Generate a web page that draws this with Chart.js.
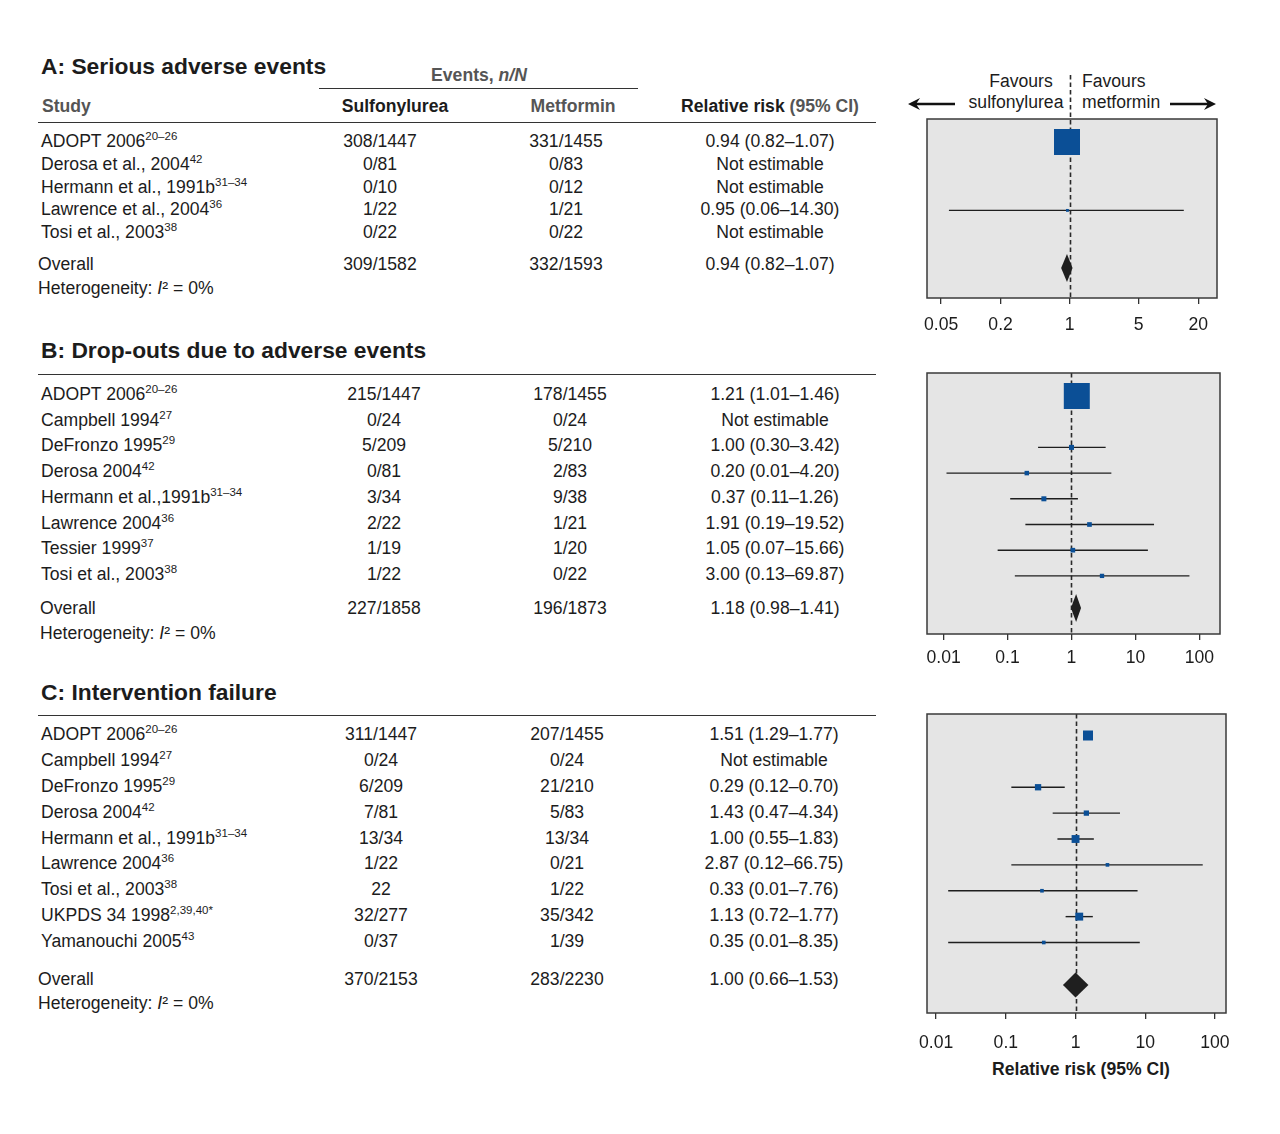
<!DOCTYPE html>
<html>
<head>
<meta charset="utf-8">
<script src="https://cdn.jsdelivr.net/npm/chart.js@4.4.1/dist/chart.umd.min.js"></script>
<style>
  body{margin:0;background:#fff;font-family:"Liberation Sans",Arial,sans-serif;color:#1c1c1c}
  #page{position:relative;width:1280px;height:1134px;overflow:hidden;background:#fff}
  .t{position:absolute;white-space:nowrap;font-size:17.6px;line-height:20px;transform:translateY(-50%)}
  .t.c{transform:translate(-50%,-50%)}
  .b{font-weight:bold}
  .g{color:#555}
  .title{font-size:22.8px;font-weight:bold}
  sup{font-size:11.5px;position:relative;top:-7px;vertical-align:baseline;line-height:0}
  .rule{position:absolute;height:0;border-top:1.5px solid #333}
  .plot{position:absolute}
  .fav{position:absolute;font-size:17.6px;line-height:21px;white-space:nowrap}
</style>
</head>
<body>
<div id="page"></div>
<script>
// ---------- data ----------
const ticksA = [0.05, 0.2, 1, 5, 20];
const ticksBC = [0.01, 0.1, 1, 10, 100];

// A: serious adverse events
const studiesA = ['ADOPT 2006', 'Derosa et al., 2004', 'Hermann et al., 1991b', 'Lawrence et al., 2004', 'Tosi et al., 2003'];
const refsA = ['20–26', '42', '31–34', '36', '38'];
const suA = ['308/1447', '0/81', '0/10', '1/22', '0/22'];
const meA = ['331/1455', '0/83', '0/12', '1/21', '0/22'];
const rrA = [0.94, null, null, 0.95, null];
const loA = [0.82, null, null, 0.06, null];
const hiA = [1.07, null, null, 14.30, null];
const wA = [98.8, null, null, 1.2, null];
const totA = ['309/1582', '332/1593'];
const overallA = [0.94, 0.82, 1.07];

// B: drop-outs due to adverse events
const studiesB = ['ADOPT 2006', 'Campbell 1994', 'DeFronzo 1995', 'Derosa 2004', 'Hermann et al.,1991b', 'Lawrence 2004', 'Tessier 1999', 'Tosi et al., 2003'];
const refsB = ['20–26', '27', '29', '42', '31–34', '36', '37', '38'];
const suB = ['215/1447', '0/24', '5/209', '0/81', '3/34', '2/22', '1/19', '1/22'];
const meB = ['178/1455', '0/24', '5/210', '2/83', '9/38', '1/21', '1/20', '0/22'];
const rrB = [1.21, null, 1.00, 0.20, 0.37, 1.91, 1.05, 3.00];
const loB = [1.01, null, 0.30, 0.0111, 0.11, 0.19, 0.07, 0.13];
const hiB = [1.46, null, 3.42, 4.20, 1.26, 19.52, 15.66, 69.87];
const wB = [83.5, null, 3.1, 2.5, 3.1, 2.7, 2.7, 2.3];
const totB = ['227/1858', '196/1873'];
const overallB = [1.18, 0.98, 1.41];

// C: intervention failure
const studiesC = ['ADOPT 2006', 'Campbell 1994', 'DeFronzo 1995', 'Derosa 2004', 'Hermann et al., 1991b', 'Lawrence 2004', 'Tosi et al., 2003', 'UKPDS 34 1998', 'Yamanouchi 2005'];
const refsC = ['20–26', '27', '29', '42', '31–34', '36', '38', '2,39,40*', '43'];
const suC = ['311/1447', '0/24', '6/209', '7/81', '13/34', '1/22', '22', '32/277', '0/37'];
const meC = ['207/1455', '0/24', '21/210', '5/83', '13/34', '0/21', '1/22', '35/342', '1/39'];
const rrC = [1.51, null, 0.29, 1.43, 1.00, 2.87, 0.33, 1.13, 0.35];
const loC = [1.29, null, 0.12, 0.47, 0.55, 0.12, 0.0149, 0.72, 0.0149];
const hiC = [1.77, null, 0.70, 4.34, 1.83, 66.75, 7.76, 1.77, 8.35];
const wC = [30.1, null, 12.0, 8.4, 18.7, 4.0, 4.0, 18.8, 4.0];
const totC = ['370/2153', '283/2230'];
const overallC = [1.00, 0.66, 1.53];

// ---------- layout ----------
const panels = [
  { title: 'A: Serious adverse events', titleY: 66, ruleY: 122, firstY: 141, step: 22.8, gap: 0.39, hetDy: 24,
    sx: 380, mx: 566, rx: 770, ox: 38, box: { l: 927, t: 119, r: 1217, b: 298 }, xmin: 0.036, xmax: 31,
    ticks: ticksA, maxSide: 26, tickPad: 11, dh: 14, plotDy: 1, diaDy: 3, header: true,
    d: { st: studiesA, ref: refsA, su: suA, me: meA, rr: rrA, lo: loA, hi: hiA, w: wA, tot: totA, ov: overallA } },
  { title: 'B: Drop-outs due to adverse events', titleY: 350, ruleY: 374, firstY: 394, step: 25.7, gap: 0.33, hetDy: 25,
    sx: 384, mx: 570, rx: 775, ox: 40, box: { l: 927, t: 373, r: 1220, b: 634 }, xmin: 0.0055, xmax: 210,
    ticks: ticksBC, maxSide: 26, tickPad: 8, dh: 14, plotDy: 2, diaDy: -2,
    d: { st: studiesB, ref: refsB, su: suB, me: meB, rr: rrB, lo: loB, hi: hiB, w: wB, tot: totB, ov: overallB } },
  { title: 'C: Intervention failure', titleY: 692, ruleY: 715, firstY: 734, step: 25.875, gap: 0.47, hetDy: 24,
    sx: 381, mx: 567, rx: 774, ox: 38, box: { l: 927, t: 714, r: 1226, b: 1013 }, xmin: 0.0074, xmax: 144,
    ticks: ticksBC, maxSide: 10, tickPad: 14, dh: 12.5, plotDy: 1.5, diaDy: 4.5,
    d: { st: studiesC, ref: refsC, su: suC, me: meC, rr: rrC, lo: loC, hi: hiC, w: wC, tot: totC, ov: overallC } }
];

const page = document.getElementById('page');
function addText(html, x, y, cls) {
  const el = document.createElement('div');
  el.className = 't ' + (cls || '');
  el.style.left = x + 'px'; el.style.top = y + 'px';
  el.innerHTML = html; page.appendChild(el); return el;
}
function addRule(x1, x2, y) {
  const el = document.createElement('div'); el.className = 'rule';
  el.style.left = x1 + 'px'; el.style.width = (x2 - x1) + 'px'; el.style.top = y + 'px';
  page.appendChild(el);
}
const fmt = v => v.toFixed(2);
const rrText = (rr, lo, hi) => rr == null ? 'Not estimable' : `${fmt(rr)} (${fmt(lo)}–${fmt(hi)})`;

// column headers (top of panel A)
addText('Events, <i>n/N</i>', 479, 75, 'c b g');
addRule(319, 638, 88);
addText('Study', 42, 106, 'b g');
addText('Sulfonylurea', 395, 106, 'c b');
addText('Metformin', 573, 106, 'c b g');
addText('Relative risk <span class="g">(95% CI)</span>', 770, 106, 'c b');

// favours labels and x-axis title
const f1 = document.createElement('div'); f1.className = 'fav';
f1.style.cssText = 'left:1016px;top:71px;transform:translateX(-50%);text-align:center';
f1.innerHTML = '<span style="position:relative;left:5px">Favours</span><br>sulfonylurea'; page.appendChild(f1);
const f2 = document.createElement('div'); f2.className = 'fav';
f2.style.cssText = 'left:1082px;top:71px;text-align:left';
f2.innerHTML = 'Favours<br>metformin'; page.appendChild(f2);
addText('Relative risk (95% CI)', 1081, 1069, 'c b');

function buildPanel(p) {
  const d = p.d;
  const n = d.st.length;
  addText(p.title, 41, p.titleY, 'title');
  addRule(38, 876, p.ruleY);
  for (let i = 0; i < n; i++) {
    const y = p.firstY + i * p.step;
    addText(`${d.st[i]}<sup>${d.ref[i]}</sup>`, 41, y);
    addText(d.su[i], p.sx, y, 'c');
    addText(d.me[i], p.mx, y, 'c');
    addText(rrText(d.rr[i], d.lo[i], d.hi[i]), p.rx, y, 'c');
  }
  const oy = p.firstY + (n + p.gap) * p.step;
  addText('Overall', p.ox, oy);
  addText(d.tot[0], p.sx, oy, 'c');
  addText(d.tot[1], p.mx, oy, 'c');
  addText(rrText(d.ov[0], d.ov[1], d.ov[2]), p.rx, oy, 'c');
  addText('Heterogeneity: <i>I</i>² = 0%', p.ox, oy + p.hetDy);

  // ---- forest plot ----
  const padL = 30, padR = 20, padT = p.header ? 60 : 4, axisH = 46;
  const wrap = document.createElement('div'); wrap.className = 'plot';
  const W = p.box.r - p.box.l + padL + padR, H = p.box.b - p.box.t + padT + axisH;
  wrap.style.left = (p.box.l - padL) + 'px'; wrap.style.top = (p.box.t - padT) + 'px';
  wrap.style.width = W + 'px'; wrap.style.height = H + 'px';
  const cv = document.createElement('canvas'); wrap.appendChild(cv); page.appendChild(wrap);

  const y0 = p.firstY + p.plotDy;
  const wMax = Math.max(...d.w.filter(v => v != null));
  const datasets = [];
  d.rr.forEach((v, i) => {
    if (v == null) return;
    datasets.push({ type: 'line', order: 1, data: [{ x: d.lo[i], y: i }, { x: d.hi[i], y: i }],
      borderColor: '#1e1e1e', borderWidth: 1.4, pointRadius: 0, fill: false });
  });
  const pts = [], rad = [];
  d.rr.forEach((v, i) => {
    if (v == null) return;
    pts.push({ x: v, y: i });
    rad.push(p.maxSide * Math.sqrt(d.w[i] / wMax) / (2 * Math.SQRT1_2));
  });
  datasets.push({ type: 'scatter', order: 0, data: pts, pointStyle: 'rect', pointRadius: rad,
    backgroundColor: '#0b4f96', borderWidth: 0 });

  const ovRow = n + p.gap;
  const forest = {
    id: 'forest',
    beforeDatasetsDraw(chart) {
      const { ctx, chartArea: a, scales: { x } } = chart;
      ctx.save();
      ctx.fillStyle = '#e5e5e5';
      ctx.fillRect(a.left, a.top, a.right - a.left, a.bottom - a.top);
      const x1 = Math.round(x.getPixelForValue(1)) + 0.5;
      ctx.strokeStyle = '#2a2a2a'; ctx.lineWidth = 1.6; ctx.setLineDash([4.5, 3]);
      ctx.beginPath(); ctx.moveTo(x1, p.header ? a.top - 44 : a.top); ctx.lineTo(x1, a.bottom); ctx.stroke();
      ctx.restore();
    },
    afterDatasetsDraw(chart) {
      const { ctx, chartArea: a, scales: { x, y } } = chart;
      ctx.save();
      const yc = y.getPixelForValue(ovRow) + p.diaDy;
      ctx.fillStyle = '#1f1f1f';
      ctx.beginPath();
      ctx.moveTo(x.getPixelForValue(d.ov[1]), yc);
      ctx.lineTo(x.getPixelForValue(d.ov[0]), yc - p.dh);
      ctx.lineTo(x.getPixelForValue(d.ov[2]), yc);
      ctx.lineTo(x.getPixelForValue(d.ov[0]), yc + p.dh);
      ctx.closePath(); ctx.fill();
      ctx.strokeStyle = '#3a3a3a'; ctx.lineWidth = 1.5;
      ctx.strokeRect(a.left, a.top, a.right - a.left, a.bottom - a.top);
      if (p.header) {
        const ay = a.top - 15;
        ctx.strokeStyle = '#111'; ctx.fillStyle = '#111'; ctx.lineWidth = 2.6;
        const arrow = (from, to) => {
          const dir = Math.sign(to - from);
          ctx.beginPath(); ctx.moveTo(from, ay); ctx.lineTo(to - dir * 6, ay); ctx.stroke();
          ctx.beginPath(); ctx.moveTo(to, ay); ctx.lineTo(to - dir * 12, ay - 6);
          ctx.lineTo(to - dir * 8, ay); ctx.lineTo(to - dir * 12, ay + 6); ctx.closePath(); ctx.fill();
        };
        arrow(a.left + 28, a.left - 19);
        arrow(a.right - 47, a.right - 1);
      }
      ctx.restore();
    }
  };

  new Chart(cv, {
    data: { datasets },
    options: {
      responsive: true, maintainAspectRatio: false, animation: false, events: [],
      layout: { autoPadding: false, padding: { left: padL, right: padR, top: padT, bottom: 0 } },
      plugins: { legend: { display: false }, tooltip: { enabled: false } },
      scales: {
        x: {
          type: 'logarithmic', min: p.xmin, max: p.xmax,
          afterBuildTicks: s => { s.ticks = p.ticks.map(v => ({ value: v })); },
          afterFit: s => { s.height = axisH; },
          ticks: { callback: v => String(v), color: '#1c1c1c', padding: p.tickPad, maxRotation: 0, autoSkip: false,
            font: { family: '"Liberation Sans", Arial, sans-serif', size: 17.6 } },
          grid: { drawOnChartArea: false, drawTicks: true, tickLength: 6, color: '#333', lineWidth: 1.3 },
          border: { display: false }
        },
        y: {
          type: 'linear', display: false, reverse: true,
          min: (p.box.t - y0) / p.step, max: (p.box.b - y0) / p.step
        }
      }
    },
    plugins: [forest]
  });
}

panels.forEach(buildPanel);
</script>
</body>
</html>
